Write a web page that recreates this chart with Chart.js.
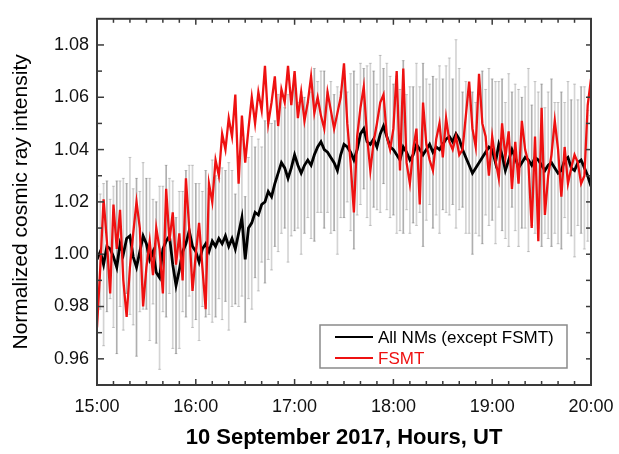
<!DOCTYPE html>
<html>
<head>
<meta charset="utf-8">
<title>Cosmic ray intensity, 10 September 2017</title>
<script src="https://cdn.jsdelivr.net/npm/chart.js@4.4.0/dist/chart.umd.min.js"></script>
<style>
  html, body { margin: 0; padding: 0; background: #fff; }
  #wrap { width: 619px; height: 454px; }
</style>
</head>
<body>
<div id="wrap"><canvas id="crChart" width="619" height="454"></canvas></div>
<script>
// x = minutes after 15:00 UT, one sample every 2 min
const stepMin = 2;
const xTicks = [0, 60, 120, 180, 240, 300];
const xTickLabels = ["15:00", "16:00", "17:00", "18:00", "19:00", "20:00"];
const yTicks = [0.96, 0.98, 1.00, 1.02, 1.04, 1.06, 1.08];
const seriesNames = ["All NMs (except FSMT)", "FSMT"];

// average of all neutron monitors (black)
const allNMs = [
  0.998, 1.001, 0.996, 1.003, 1.002, 0.999, 0.995, 1.004, 1.000, 1.006,
  1.007, 0.999, 0.995, 1.001, 1.007, 1.004, 0.998, 1.001, 0.993, 0.991,
  1.002, 1.005, 1.007, 0.996, 0.988, 0.994, 1.001, 1.004, 1.009, 1.003,
  1.001, 0.997, 1.002, 1.004, 1.001, 1.005, 1.003, 1.006, 1.004, 1.007,
  1.003, 1.006, 1.002, 1.008, 1.014, 0.998, 1.010, 1.012, 1.016, 1.015,
  1.019, 1.020, 1.024, 1.022, 1.027, 1.031, 1.035, 1.033, 1.029, 1.033,
  1.038, 1.034, 1.031, 1.034, 1.036, 1.034, 1.038, 1.041, 1.043, 1.040,
  1.039, 1.037, 1.035, 1.032, 1.038, 1.042, 1.041, 1.039, 1.036, 1.040,
  1.046, 1.048, 1.043, 1.042, 1.044, 1.041, 1.046, 1.049, 1.045, 1.041,
  1.040, 1.038, 1.036, 1.041, 1.039, 1.036, 1.038, 1.042, 1.040, 1.038,
  1.040, 1.042, 1.039, 1.041, 1.040, 1.042, 1.044, 1.045, 1.043, 1.046,
  1.044, 1.040, 1.037, 1.034, 1.031, 1.033, 1.035, 1.037, 1.039, 1.041,
  1.040, 1.035, 1.042, 1.038, 1.032, 1.036, 1.040, 1.037, 1.033, 1.035,
  1.037, 1.036, 1.034, 1.037, 1.036, 1.034, 1.032, 1.034, 1.035, 1.033,
  1.031, 1.032, 1.036, 1.037, 1.033, 1.032, 1.035, 1.036, 1.033, 1.030,
  1.026
];

// spread between the stations (grey bars), half width
const allNMsErr = [
  0.028, 0.022, 0.031, 0.025, 0.019, 0.027, 0.033, 0.024, 0.029, 0.021,
  0.030, 0.026, 0.034, 0.023, 0.028, 0.025, 0.031, 0.020, 0.027, 0.035,
  0.024, 0.029, 0.022, 0.032, 0.026, 0.030, 0.023, 0.028, 0.025, 0.031,
  0.026, 0.030, 0.022, 0.028, 0.024, 0.031, 0.027, 0.023, 0.029, 0.025,
  0.032, 0.026, 0.021, 0.028, 0.030, 0.024, 0.027, 0.033, 0.025, 0.029,
  0.022, 0.031, 0.026, 0.028, 0.024, 0.030, 0.027, 0.023, 0.032, 0.026,
  0.029, 0.024, 0.031, 0.026, 0.022, 0.028, 0.033, 0.025, 0.027, 0.030,
  0.023, 0.029, 0.026, 0.032, 0.024, 0.028, 0.021, 0.030, 0.034, 0.025,
  0.027, 0.023, 0.029, 0.031, 0.026, 0.024, 0.030, 0.022, 0.028, 0.027,
  0.025, 0.030, 0.027, 0.033, 0.022, 0.028, 0.026, 0.031, 0.024, 0.035,
  0.027, 0.023, 0.029, 0.026, 0.032, 0.025, 0.028, 0.030, 0.024, 0.036,
  0.027, 0.022, 0.029, 0.026, 0.031, 0.025, 0.028, 0.033, 0.024, 0.030,
  0.027, 0.031, 0.024, 0.029, 0.026, 0.033, 0.022, 0.028, 0.030, 0.025,
  0.027, 0.035, 0.023, 0.029, 0.026, 0.031, 0.024, 0.028, 0.032, 0.025,
  0.027, 0.030, 0.022, 0.029, 0.026, 0.033, 0.024, 0.028, 0.031, 0.025,
  0.027
];

// FSMT (red)
const fsmt = [
  0.972, 0.995, 1.021, 1.005, 0.985, 1.019, 1.002, 1.017, 0.990, 0.976,
  0.995, 1.008, 1.020, 1.010, 0.980, 0.995, 1.005, 0.992, 1.010, 1.002,
  0.985, 1.025, 1.005, 1.016, 0.996, 1.008, 0.990, 1.029, 1.010, 0.986,
  1.000, 1.012, 0.995, 0.979, 1.027, 1.020, 1.036, 1.030, 1.046, 1.040,
  1.052, 1.045, 1.061, 1.027, 1.053, 1.035, 1.048, 1.060, 1.050, 1.062,
  1.055, 1.072, 1.050, 1.058, 1.068, 1.049, 1.063, 1.058, 1.072, 1.057,
  1.070, 1.052, 1.062, 1.051, 1.058, 1.068, 1.054, 1.060, 1.053, 1.048,
  1.062, 1.055, 1.048, 1.054, 1.060, 1.073, 1.050, 1.035, 1.016, 1.045,
  1.056, 1.064, 1.045, 1.032, 1.043, 1.050, 1.058, 1.061, 1.045, 1.040,
  1.048, 1.070, 1.032, 1.071, 1.035, 1.027, 1.040, 1.048, 1.019, 1.058,
  1.042, 1.036, 1.032, 1.044, 1.050, 1.037, 1.052, 1.043, 1.040, 1.045,
  1.038, 1.040, 1.053, 1.066, 1.048, 1.041, 1.069, 1.050, 1.045, 1.030,
  1.045, 1.036, 1.029, 1.050, 1.037, 1.047, 1.025, 1.043, 1.027, 1.051,
  1.040, 1.035, 1.010, 1.045, 1.005, 1.056, 1.015, 1.030, 1.038, 1.051,
  1.040, 1.022, 1.041, 1.027, 1.033, 1.038, 1.035, 1.027, 1.030, 1.057,
  1.067
];

const FONT = "'Liberation Sans', Arial, Helvetica, sans-serif";
Chart.defaults.font.family = FONT;
Chart.defaults.color = "#000";

// a few grey shades so the bars don't look like a fence
const barGreys = ["rgba(110,110,110,0.55)", "rgba(160,160,160,0.45)", "rgba(130,130,130,0.35)"];

function pts(arr) {
  return arr.map(function (v, i) { return { x: i * stepMin, y: v }; });
}

const errBars = allNMs.map(function (v, i) {
  return { x: i * stepMin, y: [v - allNMsErr[i], v + allNMsErr[i]] };
});
const errCaps = [];
allNMs.forEach(function (v, i) {
  errCaps.push({ x: i * stepMin, y: v - allNMsErr[i] });
  errCaps.push({ x: i * stepMin, y: v + allNMsErr[i] });
});

// frame with inward ticks on all four sides
const boxTicks = {
  id: "boxTicks",
  afterDatasetsDraw: function (chart) {
    const ctx = chart.ctx, a = chart.chartArea;
    const xs = chart.scales.x, ys = chart.scales.y;
    function seg(x1, y1, x2, y2) {
      ctx.beginPath(); ctx.moveTo(x1, y1); ctx.lineTo(x2, y2); ctx.stroke();
    }
    ctx.save();
    ctx.strokeStyle = "#3a3a3a";
    ctx.lineWidth = 1.5;
    for (let m = 10; m < 300; m += 10) {
      const px = xs.getPixelForValue(m);
      const len = m % 60 === 0 ? 6 : 4;
      seg(px, a.bottom, px, a.bottom - len);
      seg(px, a.top, px, a.top + len);
    }
    for (let k = 96; k <= 108; k++) {
      const py = ys.getPixelForValue(k / 100);
      seg(a.left, py, a.left + (k % 2 === 0 ? 7 : 5), py);
      seg(a.right, py, a.right - 5, py);
    }
    ctx.lineWidth = 2;
    ctx.strokeRect(a.left, a.top, a.right - a.left, a.bottom - a.top);
    ctx.restore();
  }
};

// boxed legend in the lower right corner of the plot
const boxLegend = {
  id: "boxLegend",
  afterDraw: function (chart) {
    const ctx = chart.ctx, a = chart.chartArea;
    const x0 = a.right - 271, y0 = a.bottom - 60, w = 247, h = 43;
    const items = [
      { text: seriesNames[0], color: "#000000", y: y0 + 12 },
      { text: seriesNames[1], color: "#ee1111", y: y0 + 33 }
    ];
    ctx.save();
    ctx.fillStyle = "#fff";
    ctx.fillRect(x0, y0, w, h);
    ctx.strokeStyle = "#8a8a8a";
    ctx.lineWidth = 1.5;
    ctx.strokeRect(x0, y0, w, h);
    ctx.font = "17px " + FONT;
    ctx.textBaseline = "middle";
    items.forEach(function (it) {
      ctx.strokeStyle = it.color;
      ctx.lineWidth = 2;
      ctx.beginPath(); ctx.moveTo(x0 + 15, it.y); ctx.lineTo(x0 + 53, it.y); ctx.stroke();
      ctx.fillStyle = it.color;
      ctx.fillText(it.text, x0 + 58, it.y + 1);
    });
    ctx.restore();
  }
};

new Chart(document.getElementById("crChart"), {
  type: "line",
  data: {
    datasets: [
      {
        label: seriesNames[1], data: pts(fsmt), order: 0,
        borderColor: "#ee1111", borderWidth: 2.3, pointRadius: 0, tension: 0
      },
      {
        label: seriesNames[0], data: pts(allNMs), order: 1,
        borderColor: "#000", borderWidth: 2.8, pointRadius: 0, tension: 0
      },
      {
        type: "bar", label: "spread", data: errBars, order: 2,
        backgroundColor: function (c) { return barGreys[c.dataIndex % 3]; },
        borderWidth: 0, barThickness: 1, grouped: false
      },
      {
        label: "caps", data: errCaps, order: 3, showLine: false,
        pointStyle: "line", pointRadius: 1.5, pointBorderWidth: 1,
        pointBorderColor: "rgba(140,140,140,0.4)"
      }
    ]
  },
  options: {
    responsive: false,
    animation: false,
    events: [],
    layout: { padding: { top: 8, right: 28, left: 0, bottom: 0 } },
    plugins: { legend: { display: false }, tooltip: { enabled: false } },
    scales: {
      x: {
        type: "linear", min: 0, max: 300, offset: false,
        afterFit: function (s) {
          s.height = 69;
          // end labels overhang into the page margin, not the plot
          s.paddingLeft = 0;
          s.paddingRight = 0;
        },
        afterBuildTicks: function (s) { s.ticks = xTicks.map(function (v) { return { value: v }; }); },
        grid: { display: false, drawTicks: false },
        border: { display: false },
        ticks: {
          padding: 11, maxRotation: 0, autoSkip: false, color: "#111",
          font: { size: 18 },
          callback: function (v) { return xTickLabels[xTicks.indexOf(v)]; }
        },
        title: {
          display: true, text: "10 September 2017, Hours, UT", color: "#000",
          font: { size: 22, weight: "bold" }, padding: { top: 0, bottom: 3 }
        }
      },
      y: {
        type: "linear", min: 0.95, max: 1.09,
        afterFit: function (s) { s.width = 97; },
        afterBuildTicks: function (s) { s.ticks = yTicks.map(function (v) { return { value: v }; }); },
        grid: { display: false, drawTicks: false },
        border: { display: false },
        ticks: {
          padding: 8, color: "#111", font: { size: 18 },
          callback: function (v) { return v.toFixed(2); }
        },
        title: {
          display: true, text: "Normalized cosmic ray intensity", color: "#000",
          font: { size: 21 }, padding: { top: 9, bottom: 0 }
        }
      }
    }
  },
  plugins: [boxTicks, boxLegend]
});
</script>
</body>
</html>
